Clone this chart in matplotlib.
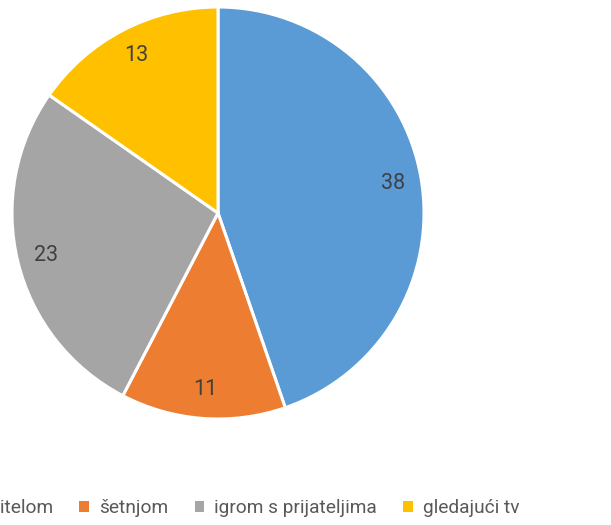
import matplotlib.pyplot as plt
from matplotlib.patches import Patch

plt.rcParams['font.family'] = ['Roboto', 'DejaVu Sans']

# podaci
labels = ['s roditelom', 'šetnjom', 'igrom s prijateljima', 'gledajući tv']
values = [38, 11, 23, 13]
colors = ['#5B9BD5', '#ED7D31', '#A5A5A5', '#FFC000']

fig = plt.figure(figsize=(6.11, 5.25), dpi=100)
# pie placed so that its centre sits at about (218, 213) px, radius ~206 px
ax = fig.add_axes([12 / 611, 106 / 525, 412 / 611, 412 / 525])

wedges, texts, autotexts = ax.pie(
    values, colors=colors, startangle=90, counterclock=False,
    autopct=lambda p: '{:.0f}'.format(p * sum(values) / 100),
    pctdistance=0.86,
    wedgeprops=dict(edgecolor='white', linewidth=2.2),
    textprops=dict(color='#404040', fontsize=15.5),
)
ax.set_xlim(-1.0, 1.0)
ax.set_ylim(-1.0, 1.0)
ax.set_aspect('equal')

# legenda - prvi unos je odrezan lijevim rubom slike
handles = [Patch(facecolor=c, edgecolor='none') for c in colors]
fig.legend(handles, labels, loc='center right', bbox_to_anchor=(519 / 611, 17 / 525),
           ncol=4, frameon=False, fontsize=13.8, labelcolor='#595959',
           handlelength=0.5, handleheight=0.5, handletextpad=0.5,
           columnspacing=1.4, borderpad=0, borderaxespad=0)

fig.savefig('out.png', dpi=100)
